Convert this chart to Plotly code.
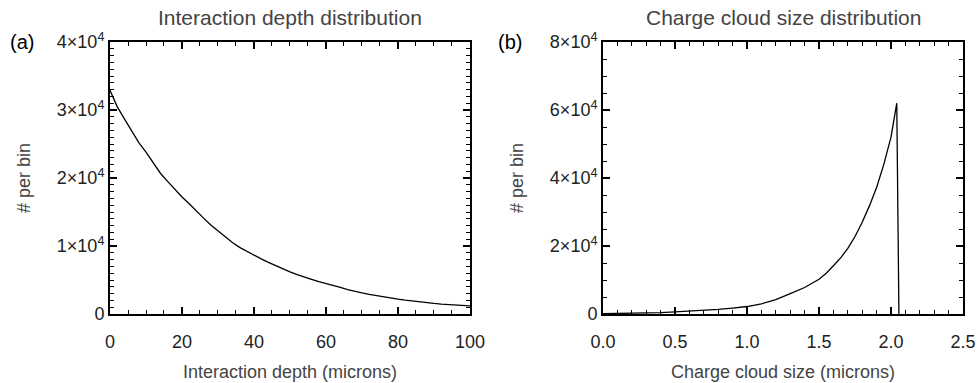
import plotly.graph_objects as go
from plotly.subplots import make_subplots

# Panel (a): interaction depth distribution
depth_um = [0, 2, 4, 6, 8, 10, 12, 14, 16, 18, 20, 22, 24, 26, 28, 30, 32, 34, 36, 38,
            40, 42, 44, 46, 48, 50, 52, 54, 56, 58, 60, 62, 64, 66, 68, 70, 72, 74, 76, 78,
            80, 82, 84, 86, 88, 90, 92, 94, 96, 98, 100]
depth_counts = [32900, 30500, 28700, 27000, 25200, 23800, 22200, 20700, 19500, 18300,
                17200, 16200, 15100, 14100, 13100, 12200, 11400, 10500, 9800, 9200,
                8600, 8100, 7600, 7100, 6600, 6200, 5800, 5500, 5100, 4750,
                4500, 4200, 3900, 3600, 3300, 3100, 2900, 2700, 2500, 2350,
                2200, 2050, 1900, 1750, 1650, 1550, 1450, 1400, 1300, 1250, 1200]

# Panel (b): charge cloud size distribution
cloud_um = [0.0, 0.1, 0.2, 0.3, 0.4, 0.5, 0.6, 0.7, 0.8, 0.9, 1.0, 1.1, 1.2, 1.3, 1.4,
            1.5, 1.55, 1.6, 1.65, 1.7, 1.75, 1.8, 1.85, 1.9, 1.95, 2.0, 2.04, 2.055]
cloud_counts = [100, 150, 200, 300, 400, 600, 800, 1050, 1350, 1750, 2200, 3000, 4200,
                6000, 7800, 10200, 12000, 14200, 16500, 19300, 22800, 27000, 31800,
                37200, 44000, 52000, 62000, 0]

left_yticks = [0, 10000, 20000, 30000, 40000]
left_ytext = ["0", "1×10<sup>4</sup>", "2×10<sup>4</sup>", "3×10<sup>4</sup>", "4×10<sup>4</sup>"]
right_yticks = [0, 20000, 40000, 60000, 80000]
right_ytext = ["0", "2×10<sup>4</sup>", "4×10<sup>4</sup>", "6×10<sup>4</sup>", "8×10<sup>4</sup>"]
left_xticks = [0, 20, 40, 60, 80, 100]
right_xticks = [0.0, 0.5, 1.0, 1.5, 2.0, 2.5]
right_xtext = ["0.0", "0.5", "1.0", "1.5", "2.0", "2.5"]

FONT = "Liberation Sans, Arial, sans-serif"
TICKC = "#222222"
TITLEC = "#444444"

fig = make_subplots(rows=1, cols=2, horizontal_spacing=0.156)

fig.add_trace(go.Scatter(x=depth_um, y=depth_counts, mode="lines",
                         line=dict(color="black", width=1.3), showlegend=False), row=1, col=1)
fig.add_trace(go.Scatter(x=cloud_um, y=cloud_counts, mode="lines",
                         line=dict(color="black", width=1.3), showlegend=False), row=1, col=2)

common = dict(showgrid=False, zeroline=False, showline=True, linecolor="black", linewidth=2,
              mirror="allticks", ticks="inside", ticklen=7, tickwidth=1.5, tickcolor="black",
              automargin=False,
              tickfont=dict(family=FONT, size=18, color=TICKC))
minor_style = dict(ticks="inside", ticklen=4, tickcolor="black", tickwidth=1.2)
xtitle_font = dict(family=FONT, size=18, color=TITLEC)

fig.update_xaxes(range=[0, 100], tickvals=left_xticks, ticklabelstandoff=10,
                 minor=dict(dtick=5, **minor_style),
                 title=dict(text="Interaction depth (microns)", font=xtitle_font, standoff=15),
                 row=1, col=1, **common)
fig.update_xaxes(range=[0, 2.5], tickvals=right_xticks, ticktext=right_xtext, ticklabelstandoff=10,
                 minor=dict(dtick=0.1, **minor_style),
                 title=dict(text="Charge cloud size (microns)", font=xtitle_font, standoff=15),
                 row=1, col=2, **common)
fig.update_yaxes(range=[0, 40000], tickvals=left_yticks, ticktext=left_ytext,
                 minor=dict(dtick=1000, **minor_style),
                 title=dict(text="# per bin", font=xtitle_font, standoff=22),
                 row=1, col=1, **common)
fig.update_yaxes(range=[0, 80000], tickvals=right_yticks, ticktext=right_ytext,
                 minor=dict(dtick=5000, **minor_style),
                 title=dict(text="# per bin", font=xtitle_font, standoff=22),
                 row=1, col=2, **common)

W, H = 978, 383
l, r, t, b = 110, 15, 42, 69
pw, ph = W - l - r, H - t - b


def px2paper(px, py):
    return (px - l) / pw, 1 - (py - t) / ph


ann_specs = [
    ("Interaction depth distribution", 290, 17, 21, TITLEC),
    ("Charge cloud size distribution", 783, 17, 21, TITLEC),
    ("(a)", 22, 42, 20, "black"),
    ("(b)", 510, 42, 20, "black"),
]
annotations = []
for text, px, py, size, color in ann_specs:
    ax, ay = px2paper(px, py)
    annotations.append(dict(text=text, x=ax, y=ay, xref="paper", yref="paper",
                            xanchor="center", yanchor="middle", showarrow=False,
                            font=dict(family=FONT, size=size, color=color)))

fig.update_layout(
    width=W, height=H,
    margin=dict(l=l, r=r, t=t, b=b, autoexpand=False),
    paper_bgcolor="white", plot_bgcolor="white",
    font=dict(family=FONT, color=TICKC),
    annotations=annotations,
)

fig.write_html("out.html")
